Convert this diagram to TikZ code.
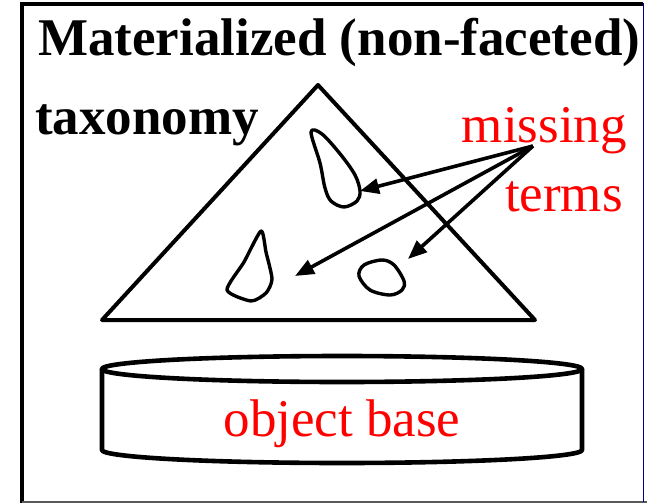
\documentclass[tikz,border=0pt]{standalone}
\usepackage{fontspec}
\setmainfont{Liberation Serif}
\newfontfamily\timesfont{Liberation Serif}
\usetikzlibrary{arrows.meta}
\begin{document}
\begin{tikzpicture}[x=1pt,y=-1pt,
  bigtext/.style={inner sep=0pt,font=\timesfont\fontsize{53}{60}\selectfont},
  boldtext/.style={inner sep=0pt,font=\timesfont\bfseries\fontsize{53}{60}\selectfont},
  redtext/.style={bigtext,text=red},
  outline/.style={line width=4pt,line join=round},
  blob/.style={line width=3.4pt,line join=round},
  pointer/.style={line width=3.6pt,-{Triangle[length=19pt,width=15pt]}},
  cyl/.style={line width=4.6pt,line join=round}]
\useasboundingbox (0,0) rectangle (647,503);
% frame
\draw[line width=4pt] (21.5,503) -- (21.5,4.5) -- (643,4.5);
\draw[gray!70!black,line width=1.6pt] (21.5,502) -- (647,502);
\draw[blue!55!black,line width=1.8pt] (643.5,3) -- (643.5,502);
% title and labels
\node[boldtext,anchor=base west] (title) at (38,56) {Materialized (non-faceted)};
\node[boldtext,anchor=base west] (tax) at (35,134) {taxonomy};
\node[redtext,anchor=base east] (missing) at (627,142) {missing};
\node[redtext,anchor=base east] (terms) at (623,211) {terms};
% triangle
\coordinate (tl) at (102,320);
\coordinate (tt) at (318,85);
\coordinate (tr) at (535,320);
\draw[outline] (tl) -- (tt) -- (tr) -- cycle;
% blobs
\draw[blob] plot[smooth cycle,tension=0.55] coordinates {(311,132) (322,134) (341,155) (355,175) (360,191) (357,201) (344,207) (331,201) (325,188) (320,163)};
\draw[blob] plot[smooth cycle,tension=0.4] coordinates {(261,231) (266,252) (272,279) (266,293) (251,301) (227,290) (244,262)};
\draw[blob] plot[smooth cycle,tension=0.55] coordinates {(359,276) (364,265) (382,260) (394,265) (404,281) (402,290) (390,295) (370,290)};
% arrows
\coordinate (src) at (533,146);
\coordinate (a1) at (360,191);
\coordinate (a2) at (295,276);
\coordinate (a3) at (408,259);
\draw[pointer] (src) -- (a1);
\draw[pointer] (src) -- (a2);
\draw[pointer] (src) -- (a3);
% cylinder
\draw[cyl] (102,369) -- (102,450) arc[start angle=180,end angle=0,x radius=240,y radius=13] -- (582,369);
\draw[cyl] (342,369) ellipse[x radius=240,y radius=13];
\node[redtext,anchor=base] (ob) at (342,436) {object base};
\end{tikzpicture}
\end{document}
